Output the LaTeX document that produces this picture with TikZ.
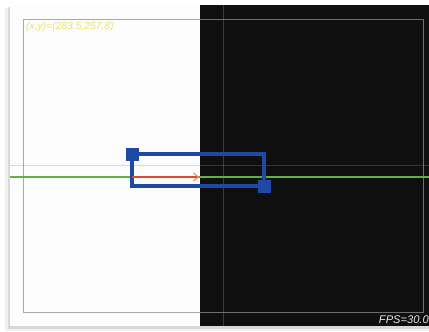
\documentclass[tikz,border=0pt]{standalone}
\usepackage{fontspec}
\setsansfont{Liberation Sans}
\usetikzlibrary{positioning,arrows.meta}
\definecolor{camwhite}{HTML}{FCFCFC}
\definecolor{camdark}{HTML}{0F0F0F}
\definecolor{roiblue}{HTML}{1E4AA6}
\definecolor{axgreen}{HTML}{5DB33C}
\definecolor{vecred}{HTML}{E2482F}
\definecolor{vecorange}{HTML}{F08A3C}
\definecolor{infoyellow}{HTML}{EDE36A}
\definecolor{framegray}{HTML}{8E8E8E}

\begin{document}
\begin{tikzpicture}[x=0.03cm,y=-0.03cm,
	handle/.style={draw=roiblue,fill=roiblue,minimum size=0.35cm,inner sep=0pt},
	roibox/.style={draw=roiblue,line width=3pt},
	guide/.style={draw=framegray,line width=0.7pt},
	lbl/.style={font=\sffamily\itshape,inner sep=0pt}]
	\useasboundingbox (0,0) rectangle (429,331);
	%% shadow and the two halves of the frame
	\fill[black,opacity=0.06] (5,8) rectangle (429,331);
	\fill[black,opacity=0.10] (8,7) rectangle (429,329);
	\fill[camwhite] (10,5) rectangle (200,326);
	\fill[camdark] (200,5) rectangle (429,326);
	% guide lines
	\draw[guide,opacity=0.3] (10,165) -- (429,165);
	\draw[guide,opacity=0.35] (223,5) -- (223,326);
	\draw[guide,opacity=0.75] (23,19) rectangle (423,312);
	\draw[axgreen,line width=1.3pt] (10,177) -- (429,177);
	%% region of interest
	\node[handle] (hA) at (132,154) {};
	\node[handle] (hB) at (264,186) {};
	\draw[roibox] (hA.center) rectangle (hB.center);
	\node[handle] at (hA) {};
	\node[handle] at (hB) {};
	% motion vector
	\coordinate (vs) at (132,177);
	\coordinate[right=2.01cm of vs] (ve);
	\draw[vecred,line width=1.3pt,-{Straight Barb[length=4pt,width=7pt,line width=0.9pt,color=vecorange]}] (vs) -- (ve);
	%% texts
	\node[lbl,infoyellow,anchor=west,font=\sffamily\itshape\fontsize{8.8}{10}\selectfont] (pos) at (26,27) {(x,y)=(283.5,257.8)};
	\node[lbl,white!80!gray,anchor=east,font=\sffamily\itshape\fontsize{9.5}{11}\selectfont] (fps) at (429,320) {FPS=30.0};
\end{tikzpicture}
\end{document}
